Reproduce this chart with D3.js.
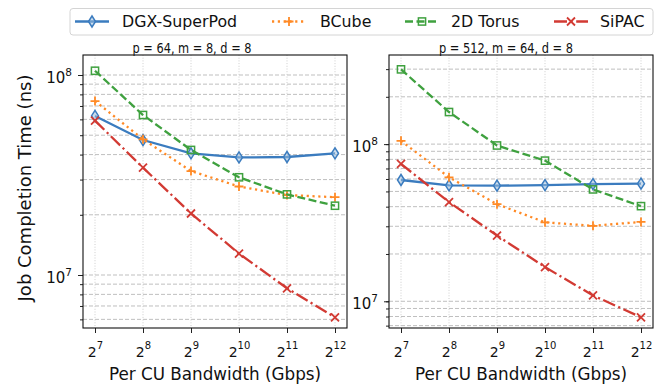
<!DOCTYPE html>
<html>
<head>
<meta charset="utf-8">
<style>
  body { margin: 0; background: #fff; }
  text { font-family: "DejaVu Sans", sans-serif; fill: #111; }
</style>
</head>
<body>
<div id="chart"></div>
<script src="https://cdn.jsdelivr.net/npm/d3@7"></script>
<script>
// x values: per CU bandwidth (Gbps)
var bandwidth = [128, 256, 512, 1024, 2048, 4096];
var seriesNames = ["DGX-SuperPod", "BCube", "2D Torus", "SiPAC"];
var panelTitles = ["p = 64, m = 8, d = 8", "p = 512, m = 64, d = 8"];

// job completion time (ns), p = 64
var dgx64   = [6.24e7, 4.73e7, 4.06e7, 3.87e7, 3.89e7, 4.06e7];
var bcube64 = [7.41e7, 4.77e7, 3.31e7, 2.77e7, 2.51e7, 2.45e7];
var torus64 = [1.05e8, 6.31e7, 4.22e7, 3.08e7, 2.53e7, 2.22e7];
var sipac64 = [5.91e7, 3.44e7, 2.03e7, 1.28e7, 8.58e6, 6.14e6];

// job completion time (ns), p = 512
var dgx512   = [5.91e7, 5.47e7, 5.44e7, 5.49e7, 5.57e7, 5.60e7];
var bcube512 = [1.05e8, 6.15e7, 4.15e7, 3.18e7, 3.02e7, 3.20e7];
var torus512 = [2.99e8, 1.60e8, 9.80e7, 7.85e7, 5.15e7, 4.03e7];
var sipac512 = [7.48e7, 4.28e7, 2.62e7, 1.65e7, 1.09e7, 7.91e6];

var W = 668, H = 386;
var colors = ["#3b7cbf", "#ff8a26", "#3fa13f", "#d23a33"];
var dashes = ["none", "2.2,3.6", "8,3.5", "13,3.5,2.2,3.5"];
var markers = ["diamond", "plus", "square", "cross"];

var svg = d3.select("#chart").append("svg")
  .attr("width", W).attr("height", H)
  .style("background", "#fff");

function drawMarker(g, kind, cx, cy, color) {
  if (kind == "diamond") {
    g.append("path").attr("d", "M" + cx + "," + (cy - 5.5) + "L" + (cx + 3.5) + "," + cy +
      "L" + cx + "," + (cy + 5.5) + "L" + (cx - 3.5) + "," + cy + "Z")
      .attr("fill", "#9dbfe0").attr("fill-opacity", 0.5).attr("stroke", color).attr("stroke-width", 1.5)
  } else if (kind == "square") {
    g.append("rect").attr("x", cx - 3.6).attr("y", cy - 3.6).attr("width", 7.2).attr("height", 7.2)
      .attr("fill", "none").attr("stroke", color).attr("stroke-width", 1.5)
  } else if (kind == "plus") {
    g.append("path").attr("d", "M" + (cx - 4.5) + "," + cy + "H" + (cx + 4.5) + "M" + cx + "," + (cy - 4.5) + "V" + (cy + 4.5))
      .attr("stroke", color).attr("stroke-width", 1.8)
  } else {
    g.append("path").attr("d", "M" + (cx - 4) + "," + (cy - 4) + "L" + (cx + 4) + "," + (cy + 4) +
      "M" + (cx - 4) + "," + (cy + 4) + "L" + (cx + 4) + "," + (cy - 4))
      .attr("stroke", color).attr("stroke-width", 1.8)
  }
}

function supLabel(sel, base, exp, bigSize, smallSize, rise) {
  sel.text(null).style("font-size", bigSize + "px").attr("font-family", null);
  sel.append("tspan").style("font-size", bigSize + "px").text(base);
  sel.append("tspan").style("font-size", smallSize + "px").attr("dy", -rise).text(exp);
}

function drawPanel(box, yDomain, series, title, titleX, titleW) {
  var x = d3.scaleLog().base(2).domain([Math.pow(2, 6.75), Math.pow(2, 12.25)]).range([box.left, box.right]);
  var y = d3.scaleLog().domain(yDomain).range([box.bottom, box.top]);
  var g = svg.append("g");

  // minor + major y values inside the domain
  var yVals = [];
  for (var e = 6; e <= 8; e++) for (var m = 1; m <= 9; m++) {
    var v = m * Math.pow(10, e);
    if (v >= yDomain[0] && v <= yDomain[1]) yVals.push(v);
  }
  var decades = yVals.filter(function(v) { return Math.abs(Math.log10(v) % 1) < 1e-9; });

  // grid
  g.selectAll(".hgrid").data(yVals).enter().append("line")
    .attr("x1", box.left).attr("x2", box.right)
    .attr("y1", function(d) { return y(d); }).attr("y2", function(d) { return y(d); })
    .attr("stroke", "#b8b8b8").attr("stroke-width", 0.9).attr("stroke-dasharray", "4,2");
  g.selectAll(".vgrid").data(bandwidth).enter().append("line")
    .attr("y1", box.top).attr("y2", box.bottom)
    .attr("x1", function(d) { return x(d); }).attr("x2", function(d) { return x(d); })
    .attr("stroke", "#c8c8c8").attr("stroke-width", 0.9).attr("stroke-dasharray", "1,1.7");

  // series
  series.forEach(function(vals, i) {
    var pts = bandwidth.map(function(b, k) { return [b, vals[k]]; });
    var line = d3.line().x(function(d) { return x(d[0]); }).y(function(d) { return y(d[1]); });
    g.append("path").datum(pts).attr("d", line).attr("fill", "none")
      .attr("stroke", colors[i]).attr("stroke-width", 2.3)
      .attr("stroke-dasharray", dashes[i]);
    pts.forEach(function(p) { drawMarker(g, markers[i], x(p[0]), y(p[1]), colors[i]); });
  });

  // x axis
  var xa = g.append("g").attr("transform", "translate(0," + box.bottom + ")")
    .call(d3.axisBottom(x).tickValues(bandwidth).tickSize(5));
  xa.select(".domain").remove();
  xa.selectAll(".tick line").attr("stroke", "#222");
  xa.selectAll(".tick text").attr("fill", "#111").attr("y", 29).attr("dy", null).each(function(d) {
    supLabel(d3.select(this), "2", String(Math.round(Math.log2(d))), 14, 10, 8);
  });

  // y axis, minor then major
  var ym = g.append("g").attr("transform", "translate(" + box.left + ",0)")
    .call(d3.axisLeft(y).tickValues(yVals).tickSize(3).tickFormat(""));
  ym.select(".domain").remove();
  ym.selectAll(".tick line").attr("stroke", "#222");
  var yM = g.append("g").attr("transform", "translate(" + box.left + ",0)")
    .call(d3.axisLeft(y).tickValues(decades).tickSize(5));
  yM.select(".domain").remove();
  yM.selectAll(".tick line").attr("stroke", "#222");
  yM.selectAll(".tick text").attr("fill", "#111").attr("x", -11).attr("dy", null).attr("y", 7.3).each(function(d) {
    supLabel(d3.select(this), "10", String(Math.round(Math.log10(d))), 15, 10.5, 7);
  });

  // frame
  g.append("rect").attr("x", box.left).attr("y", box.top)
    .attr("width", box.right - box.left).attr("height", box.bottom - box.top)
    .attr("fill", "none").attr("stroke", "#111").attr("stroke-width", 1.1);

  g.append("text").attr("x", titleX).attr("y", 52.5).attr("text-anchor", "middle")
    .style("font-size", "14px").attr("textLength", titleW)
    .attr("lengthAdjust", "spacingAndGlyphs").text(title);
  g.append("text").attr("x", (box.left + box.right) / 2).attr("y", 380).attr("text-anchor", "middle")
    .style("font-size", "16.8px").text("Per CU Bandwidth (Gbps)");
}

drawPanel({left: 83, right: 347, top: 55, bottom: 328}, [Math.pow(10, 6.735), Math.pow(10, 8.1)],
  [dgx64, bcube64, torus64, sipac64], panelTitles[0], 192, 119);
drawPanel({left: 389, right: 653, top: 55, bottom: 328}, [Math.pow(10, 6.83), Math.pow(10, 8.567)],
  [dgx512, bcube512, torus512, sipac512], panelTitles[1], 506, 134);

svg.append("text").attr("transform", "translate(31,188) rotate(-90)")
  .attr("text-anchor", "middle").style("font-size", "18px").text("Job Completion Time (ns)");

// legend
var lg = svg.append("g");
lg.append("rect").attr("x", 70).attr("y", 8.5).attr("width", 583).attr("height", 26.5).attr("rx", 3)
  .attr("fill", "#fff").attr("stroke", "#d4d4d4").attr("stroke-width", 1);
var handleX = [75, 272, 405, 554];
var textX = [122, 320, 451, 600];
seriesNames.forEach(function(name, i) {
  var ly = 21.5;
  lg.append("line").attr("x1", handleX[i]).attr("x2", handleX[i] + 34).attr("y1", ly).attr("y2", ly)
    .attr("stroke", colors[i]).attr("stroke-width", 2.3).attr("stroke-dasharray", dashes[i]);
  drawMarker(lg, markers[i], handleX[i] + 17, ly, colors[i]);
  lg.append("text").attr("x", textX[i]).attr("y", ly + 5.8).style("font-size", "15.8px").text(name);
});
</script>
</body>
</html>
